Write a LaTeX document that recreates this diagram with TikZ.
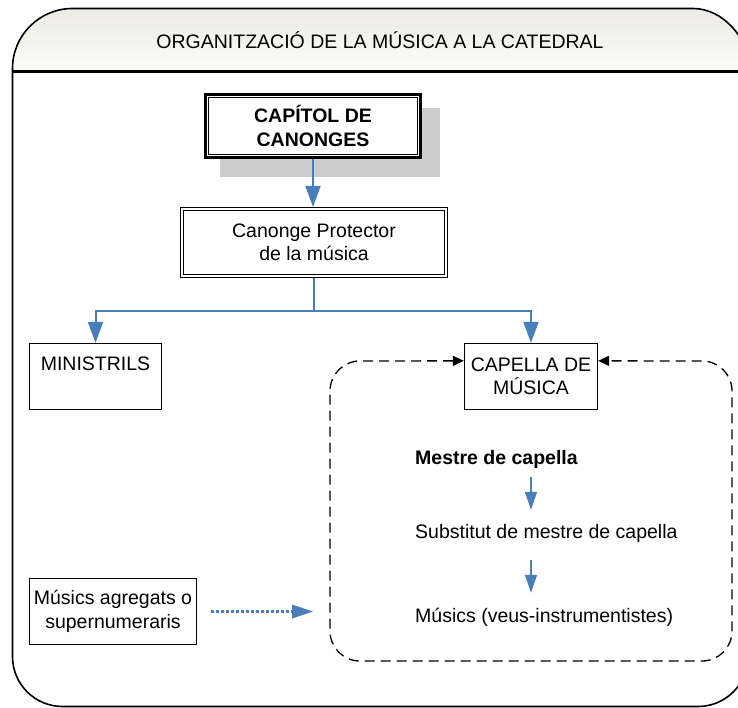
\documentclass[tikz,border=0pt]{standalone}
\usepackage{fontspec}
\setmainfont{Liberation Sans}
\usetikzlibrary{arrows.meta,calc}
\definecolor{conn}{RGB}{74,126,187}
\definecolor{hdtop}{RGB}{236,236,228}
\definecolor{hdbot}{RGB}{252,252,250}
\definecolor{shadowgray}{RGB}{204,204,204}
\begin{document}
\begin{tikzpicture}[x=1pt,y=-1pt,
  every node/.style={font=\fontsize{19.5}{23.5}\selectfont},
  box/.style={draw,line width=1.3pt,fill=white,align=center,inner sep=0pt},
  txt/.style={inner sep=0pt,text height=14pt,text depth=4pt},
  mainconn/.style={draw=conn,line width=2pt,-{Triangle[length=21pt,width=15pt]}},
  smallconn/.style={draw=conn,line width=1.4pt,-{Triangle[length=18pt,width=12pt]}},
  dotconn/.style={draw=conn,line width=2.2pt,dash pattern=on 3pt off 2pt,-{Triangle[length=21pt,width=14pt,fill=conn,line width=0pt]}},
  dashframe/.style={draw=black,line width=1.3pt,dash pattern=on 10pt off 6pt,rounded corners=30pt,{Triangle[length=11pt,width=10pt]}-{Triangle[length=11pt,width=10pt]}}
]
\useasboundingbox (0,0) rectangle (738,708);
% header fill
\path[top color=hdtop,bottom color=hdbot]
  (12.5,71.5) -- (12.5,68.5) .. controls (12.5,35.4) and (39.4,8.5) .. (72.5,8.5)
  -- (693,8.5) .. controls (723.4,8.5) and (748,38.9) .. (748,63.5) -- (748,71.5) -- cycle;
% outer frame
\draw[line width=1.6pt]
  (12.5,656.5) -- (12.5,68.5) .. controls (12.5,35.4) and (39.4,8.5) .. (72.5,8.5)
  -- (693,8.5) .. controls (723.4,8.5) and (748,38.9) .. (748,63.5)
  -- (748,656.5) .. controls (748,684.1) and (725.6,706.5) .. (698,706.5)
  -- (62.5,706.5) .. controls (34.9,706.5) and (12.5,684.1) .. (12.5,656.5) -- cycle;
\draw[line width=2.2pt] (12.5,71.5) -- (748,71.5);
\node[anchor=base] (title) at (380,48.3) {ORGANITZACIÓ DE LA MÚSICA A LA CATEDRAL};

% shadow of the top box
\fill[shadowgray] (220,108) rectangle (440,177);
% CAPITOL DE CANONGES
\node[box,line width=3pt,minimum width=215pt,minimum height=63pt] (cap) at (313,126)
  {\bfseries CAPÍTOL DE\\\bfseries CANONGES};
\draw[line width=1pt] ([shift={(4.5,4.5)}]cap.north west) rectangle ([shift={(-4.5,-4.5)}]cap.south east);

% Canonge Protector
\node[box,line width=1.2pt,minimum width=267pt,minimum height=70pt] (prot) at (314,242.5)
  {Canonge Protector\\de la música};
\draw[line width=1.2pt] ([shift={(3.5,3.5)}]prot.north west) rectangle ([shift={(-3.5,-3.5)}]prot.south east);

% second level boxes
\node[box,minimum width=132pt,minimum height=66pt] (mins) at (95.5,376.5) {};
\node[txt,anchor=base] (minst) at (95.5,370) {MINISTRILS};
\node[box,minimum width=133pt,minimum height=66pt] (capm) at (531,376.5)
  {CAPELLA DE\\MÚSICA};
\node[box,minimum width=167pt,minimum height=66pt] (agr) at (113,611.5)
  {Músics agregats o\\supernumeraris};

% connectors
\draw[mainconn] (cap.south) -- (cap.south |- prot.north);
\coordinate (junc) at (314,311);
\draw[draw=conn,line width=2pt] (prot.south) -- (junc);
\draw[mainconn] (junc) -| (mins.north);
\draw[mainconn] (junc) -| (capm.north);

% dashed frame around the capella
\coordinate (dl) at ($(capm.north west)+(0,18)$);
\coordinate (dr) at ($(capm.north east)+(0,18)$);
\draw[dashframe] (dl) -- (330,361) -- (330,661) -- (732,661) -- (732,361) -- (dr);

% inner texts
\node[txt,anchor=base west] (mestre) at (415,464) {\bfseries Mestre de capella};
\node[txt,anchor=base west] (subst) at (415,538) {Substitut de mestre de capella};
\node[txt,anchor=base west] (musics) at (415,622) {Músics (veus-instrumentistes)};
\coordinate (ax) at (531,0);
\draw[smallconn,shorten <=9pt,shorten >=14pt] (ax |- mestre.south) -- (ax |- subst.north);
\draw[smallconn,shorten <=18pt,shorten >=15pt] (ax |- subst.south) -- (ax |- musics.north);

% dotted arrow
\coordinate (agtip) at (313,611.5);
\draw[dotconn,shorten <=14pt] (agr.east) -- (agtip);
\end{tikzpicture}
\end{document}
